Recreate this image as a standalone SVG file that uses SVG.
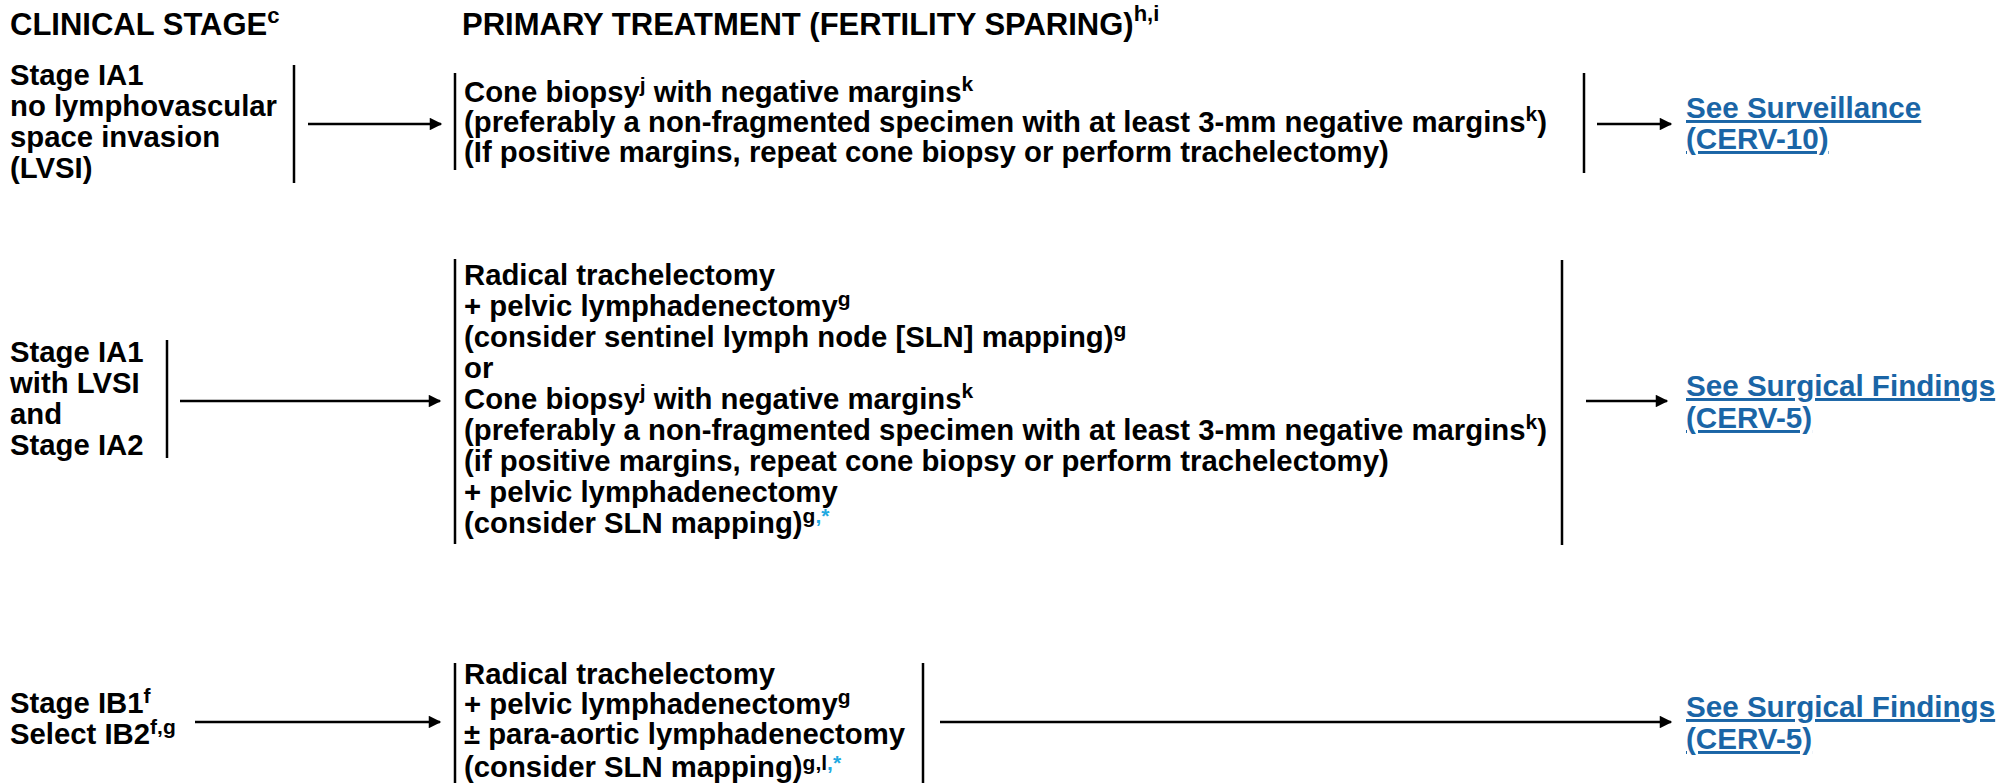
<svg xmlns="http://www.w3.org/2000/svg" width="2011" height="783" viewBox="0 0 2011 783">
<defs>
<style>
text{font-family:"Liberation Sans",Arial,sans-serif;font-weight:bold;font-size:29.3px;fill:#000}
.hdr{font-size:31px}
.sup{font-size:21px}
.hsup{font-size:22px}
.link{fill:#1a65a6;text-decoration:underline;font-size:29.6px}
.ast{fill:#22a9e1}
.bar{stroke:#000;stroke-width:2.5;fill:none}
.conn{stroke:#000;stroke-width:2.5;fill:none;marker-end:url(#ah)}
</style>
<marker id="ah" viewBox="0 0 10 10" refX="9" refY="5" markerWidth="6" markerHeight="5" markerUnits="strokeWidth" orient="auto">
<path d="M0,0 L10,5 L0,10 z" fill="#000"/>
</marker>
</defs>
<rect width="2011" height="783" fill="#fff"/>

<g id="headers">
<text class="hdr" x="10" y="35">CLINICAL STAGE<tspan class="hsup" dy="-12">c</tspan></text>
<text class="hdr" x="462" y="35">PRIMARY TREATMENT (FERTILITY SPARING)<tspan class="hsup" dy="-14">h,i</tspan></text>
</g>

<g id="stage-ia1-no-lvsi">
<text x="10" y="85">Stage IA1</text>
<text x="10" y="116">no lymphovascular</text>
<text x="10" y="147">space invasion</text>
<text x="10" y="178">(LVSI)</text>
<line class="bar" x1="294" y1="65" x2="294" y2="183"/>
</g>

<g id="tx-cone-biopsy">
<line class="bar" x1="455" y1="73" x2="455" y2="170"/>
<text x="464" y="102">Cone biopsy<tspan class="sup" dy="-10">j</tspan><tspan dy="10"> with negative margins</tspan><tspan class="sup" dy="-11">k</tspan></text>
<text x="464" y="132">(preferably a non-fragmented specimen with at least 3-mm negative margins<tspan class="sup" dy="-11">k</tspan><tspan dy="11">)</tspan></text>
<text x="464" y="162">(If positive margins, repeat cone biopsy or perform trachelectomy)</text>
<line class="bar" x1="1584" y1="73" x2="1584" y2="173"/>
</g>

<g id="link-surveillance">
<text class="link" x="1686" y="118">See Surveillance </text>
<text class="link" x="1686" y="149">(CERV-10)</text>
</g>

<g id="stage-ia1-lvsi-ia2">
<text x="10" y="362">Stage IA1</text>
<text x="10" y="393">with LVSI</text>
<text x="10" y="424">and</text>
<text x="10" y="455">Stage IA2</text>
<line class="bar" x1="167" y1="340" x2="167" y2="458"/>
</g>

<g id="tx-trachelectomy-or-cone">
<line class="bar" x1="455" y1="259" x2="455" y2="544"/>
<text x="464" y="285">Radical trachelectomy</text>
<text x="464" y="316">+ pelvic lymphadenectomy<tspan class="sup" dy="-10">g</tspan></text>
<text x="464" y="347">(consider sentinel lymph node [SLN] mapping)<tspan class="sup" dy="-10">g</tspan></text>
<text x="464" y="378">or</text>
<text x="464" y="409">Cone biopsy<tspan class="sup" dy="-10">j</tspan><tspan dy="10"> with negative margins</tspan><tspan class="sup" dy="-11">k</tspan></text>
<text x="464" y="440">(preferably a non-fragmented specimen with at least 3-mm negative margins<tspan class="sup" dy="-11">k</tspan><tspan dy="11">)</tspan></text>
<text x="464" y="471">(if positive margins, repeat cone biopsy or perform trachelectomy)</text>
<text x="464" y="502">+ pelvic lymphadenectomy</text>
<text x="464" y="533">(consider SLN mapping)<tspan class="sup" dy="-10">g</tspan><tspan class="sup ast">,*</tspan></text>
<line class="bar" x1="1562" y1="260" x2="1562" y2="545"/>
</g>

<g id="link-surgical-1">
<text class="link" x="1686" y="396">See Surgical Findings</text>
<text class="link" x="1686" y="428">(CERV-5)</text>
</g>

<g id="stage-ib1-ib2">
<text x="10" y="713">Stage IB1<tspan class="sup" dy="-10">f</tspan></text>
<text x="10" y="744">Select IB2<tspan class="sup" dy="-10">f,g</tspan></text>
</g>

<g id="tx-trachelectomy-pa">
<line class="bar" x1="455" y1="663" x2="455" y2="783"/>
<text x="464" y="684">Radical trachelectomy</text>
<text x="464" y="714">+ pelvic lymphadenectomy<tspan class="sup" dy="-10">g</tspan></text>
<text x="464" y="744">± para-aortic lymphadenectomy</text>
<text x="464" y="777">(consider SLN mapping)<tspan class="sup" dy="-7">g,l</tspan><tspan class="sup ast">,*</tspan></text>
<line class="bar" x1="923" y1="663" x2="923" y2="783"/>
</g>

<g id="link-surgical-2">
<text class="link" x="1686" y="717">See Surgical Findings</text>
<text class="link" x="1686" y="749">(CERV-5)</text>
</g>

<g id="connectors">
<line class="conn" x1="308" y1="124" x2="441" y2="124"/>
<line class="conn" x1="1597" y1="124" x2="1671" y2="124"/>
<line class="conn" x1="180" y1="401" x2="440" y2="401"/>
<line class="conn" x1="1586" y1="401" x2="1667" y2="401"/>
<line class="conn" x1="195" y1="722" x2="440" y2="722"/>
<line class="conn" x1="940" y1="722" x2="1671" y2="722"/>
</g>
</svg>
